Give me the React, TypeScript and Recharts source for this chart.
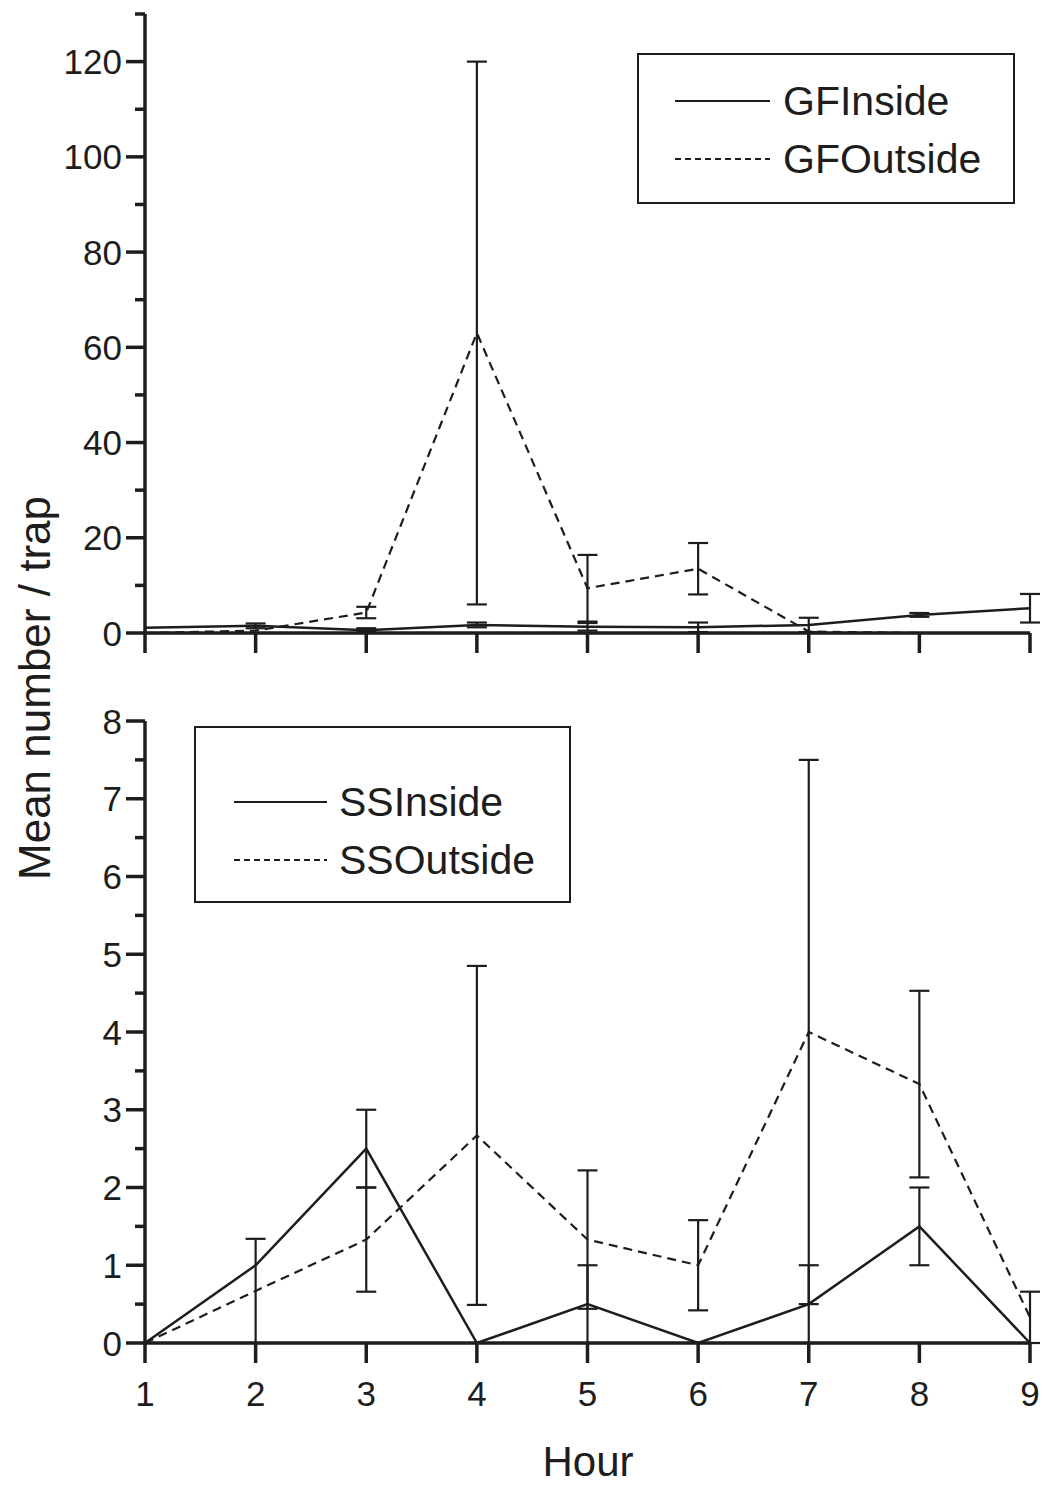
import React from 'react';
import { LineChart, Line, XAxis, YAxis, ErrorBar, Legend } from 'recharts';

// hours on the x axis
const hours = [1, 2, 3, 4, 5, 6, 7, 8, 9];

// top panel (GF)
const gfInside = [1.1, 1.5, 0.6, 1.7, 1.3, 1.2, 1.7, 3.8, 5.2];
const gfInsideErr = [0, 0.5, 0.4, 0.5, 0.8, 1.0, 1.5, 0.4, 3.0];
const gfOutside = [0, 0.5, 4.3, 63, 9.4, 13.5, 0.3, 0, 0];
const gfOutsideErr = [0, 0, 1.2, 57, 7, 5.4, 0, 0, 0];

// bottom panel (SS)
const ssInside = [0, 1, 2.5, 0, 0.5, 0, 0.5, 1.5, 0];
const ssInsideErr = [0, 0, 0.5, 0, 0.5, 0, 0.5, 0.5, 0];
const ssOutside = [0, 0.67, 1.33, 2.67, 1.33, 1, 4, 3.33, 0.33];
const ssOutsideErr = [0, 0.67, 0.67, 2.18, 0.89, 0.58, 3.5, 1.2, 0.33];

// axis ticks
const topYTicks = [0, 10, 20, 30, 40, 50, 60, 70, 80, 90, 100, 110, 120, 130];
const topYLabels = [0, 20, 40, 60, 80, 100, 120];
const bottomYTicks = [0, 0.5, 1, 1.5, 2, 2.5, 3, 3.5, 4, 4.5, 5, 5.5, 6, 6.5, 7, 7.5, 8];
const bottomYLabels = [0, 1, 2, 3, 4, 5, 6, 7, 8];

const topLegend = [
  { name: 'GFInside', dashed: false },
  { name: 'GFOutside', dashed: true },
];
const bottomLegend = [
  { name: 'SSInside', dashed: false },
  { name: 'SSOutside', dashed: true },
];

const FONT = '"Liberation Sans", Arial, Helvetica, sans-serif';
const INK = '#1d1d1d';

const topData = hours.map((h, i) => ({
  hour: h,
  gfInside: gfInside[i],
  gfInsideErr: gfInsideErr[i],
  gfOutside: gfOutside[i],
  gfOutsideErr: gfOutsideErr[i],
}));

const bottomData = hours.map((h, i) => ({
  hour: h,
  ssInside: ssInside[i],
  ssInsideErr: ssInsideErr[i],
  ssOutside: ssOutside[i],
  ssOutsideErr: ssOutsideErr[i],
}));

const YTick = (props: any) => {
  const { x, y, payload, labels } = props;
  const major = labels.includes(payload.value);
  const len = major ? 19 : 10;
  return (
    <g>
      <line x1={x - len} y1={y} x2={x} y2={y} stroke={INK} strokeWidth={3.5} />
      {major && (
        <text
          x={x - len - 4}
          y={y}
          textAnchor="end"
          dominantBaseline="central"
          fontSize={35}
          fontFamily={FONT}
          fill={INK}
        >
          {payload.value}
        </text>
      )}
    </g>
  );
};

const XTick = (props: any) => {
  const { x, y, payload, showLabel } = props;
  return (
    <g>
      <line x1={x} y1={y} x2={x} y2={y + 20} stroke={INK} strokeWidth={3.5} />
      {showLabel && (
        <text
          x={x}
          y={y + 50}
          textAnchor="middle"
          dominantBaseline="central"
          fontSize={35}
          fontFamily={FONT}
          fill={INK}
        >
          {payload.value}
        </text>
      )}
    </g>
  );
};

const makeLegend = (items: { name: string; dashed: boolean }[], rows: number[], lineLeft: number, lineWidth: number, textLeft: number) => () => (
  <div style={{ position: 'relative', width: '100%', height: '100%', boxSizing: 'border-box', border: `2.5px solid ${INK}`, background: '#fff' }}>
    {items.map((it, i) => (
      <div key={it.name} style={{ position: 'absolute', left: 0, top: rows[i] - 25, height: 50, width: '100%' }}>
        <svg width={lineWidth} height={4} style={{ position: 'absolute', left: lineLeft, top: 23 }}>
          <line x1={0} y1={2} x2={lineWidth} y2={2} stroke={INK} strokeWidth={2} strokeDasharray={it.dashed ? '6 4' : undefined} />
        </svg>
        <span style={{ position: 'absolute', left: textLeft, top: 0, lineHeight: '50px', fontSize: 41, fontFamily: FONT, color: INK, whiteSpace: 'nowrap' }}>
          {it.name}
        </span>
      </div>
    ))}
  </div>
);

const App: React.FC = () => {
  return (
    <div style={{ position: 'absolute', left: 0, top: 0, width: 1043, height: 1486, background: '#fff', overflow: 'hidden', fontFamily: FONT }}>
      <div style={{ position: 'absolute', left: 0, top: 0 }}>
        <LineChart width={1043} height={680} data={topData} margin={{ top: 14, right: 13, bottom: 0, left: 0 }}>
          <XAxis
            dataKey="hour"
            type="number"
            domain={[1, 9]}
            ticks={hours}
            height={47}
            tickSize={0}
            tickMargin={0}
            tickLine={false}
            axisLine={{ stroke: INK, strokeWidth: 3.5 }}
            tick={(p: any) => <XTick {...p} showLabel={false} />}
          />
          <YAxis
            type="number"
            domain={[0, 130]}
            ticks={topYTicks}
            width={145}
            tickSize={0}
            tickMargin={0}
            tickLine={false}
            interval={0}
            axisLine={{ stroke: INK, strokeWidth: 3.5 }}
            tick={(p: any) => <YTick {...p} labels={topYLabels} />}
          />
          <Legend
            layout="horizontal"
            verticalAlign="middle"
            align="center"
            wrapperStyle={{ position: 'absolute', left: 637, top: 53, width: 378, height: 151 }}
            content={makeLegend(topLegend, [46, 104], 36, 95, 144)}
          />
          <Line type="linear" dataKey="gfInside" name="GFInside" stroke={INK} strokeWidth={2.5} dot={false} isAnimationActive={false}>
            <ErrorBar dataKey="gfInsideErr" width={10} stroke={INK} strokeWidth={2.2} direction="y" isAnimationActive={false} />
          </Line>
          <Line type="linear" dataKey="gfOutside" name="GFOutside" stroke={INK} strokeWidth={2.2} strokeDasharray="9 6" dot={false} isAnimationActive={false}>
            <ErrorBar dataKey="gfOutsideErr" width={10} stroke={INK} strokeWidth={2.2} direction="y" isAnimationActive={false} />
          </Line>
        </LineChart>
      </div>

      <div style={{ position: 'absolute', left: 0, top: 690 }}>
        <LineChart width={1043} height={760} data={bottomData} margin={{ top: 31, right: 13, bottom: 0, left: 0 }}>
          <XAxis
            dataKey="hour"
            type="number"
            domain={[1, 9]}
            ticks={hours}
            height={107}
            tickSize={0}
            tickMargin={0}
            tickLine={false}
            axisLine={{ stroke: INK, strokeWidth: 3.5 }}
            tick={(p: any) => <XTick {...p} showLabel={true} />}
          />
          <YAxis
            type="number"
            domain={[0, 8]}
            ticks={bottomYTicks}
            width={145}
            tickSize={0}
            tickMargin={0}
            tickLine={false}
            interval={0}
            axisLine={{ stroke: INK, strokeWidth: 3.5 }}
            tick={(p: any) => <YTick {...p} labels={bottomYLabels} />}
          />
          <Legend
            layout="horizontal"
            verticalAlign="middle"
            align="center"
            wrapperStyle={{ position: 'absolute', left: 194, top: 36, width: 377, height: 177 }}
            content={makeLegend(bottomLegend, [74, 132], 38, 93, 143)}
          />
          <Line type="linear" dataKey="ssInside" name="SSInside" stroke={INK} strokeWidth={2.5} dot={false} isAnimationActive={false}>
            <ErrorBar dataKey="ssInsideErr" width={10} stroke={INK} strokeWidth={2.2} direction="y" isAnimationActive={false} />
          </Line>
          <Line type="linear" dataKey="ssOutside" name="SSOutside" stroke={INK} strokeWidth={2.2} strokeDasharray="9 6" dot={false} isAnimationActive={false}>
            <ErrorBar dataKey="ssOutsideErr" width={10} stroke={INK} strokeWidth={2.2} direction="y" isAnimationActive={false} />
          </Line>
        </LineChart>
      </div>

      <div
        style={{
          position: 'absolute',
          left: 35 - 250,
          top: 688 - 25,
          width: 500,
          height: 50,
          lineHeight: '50px',
          textAlign: 'center',
          fontSize: 44,
          color: INK,
          transform: 'rotate(-90deg)',
          whiteSpace: 'nowrap',
        }}
      >
        Mean number / trap
      </div>
      <div
        style={{
          position: 'absolute',
          left: 488,
          top: 1441,
          width: 200,
          height: 42,
          lineHeight: '42px',
          textAlign: 'center',
          fontSize: 42,
          color: INK,
        }}
      >
        Hour
      </div>
    </div>
  );
};

export default App;
